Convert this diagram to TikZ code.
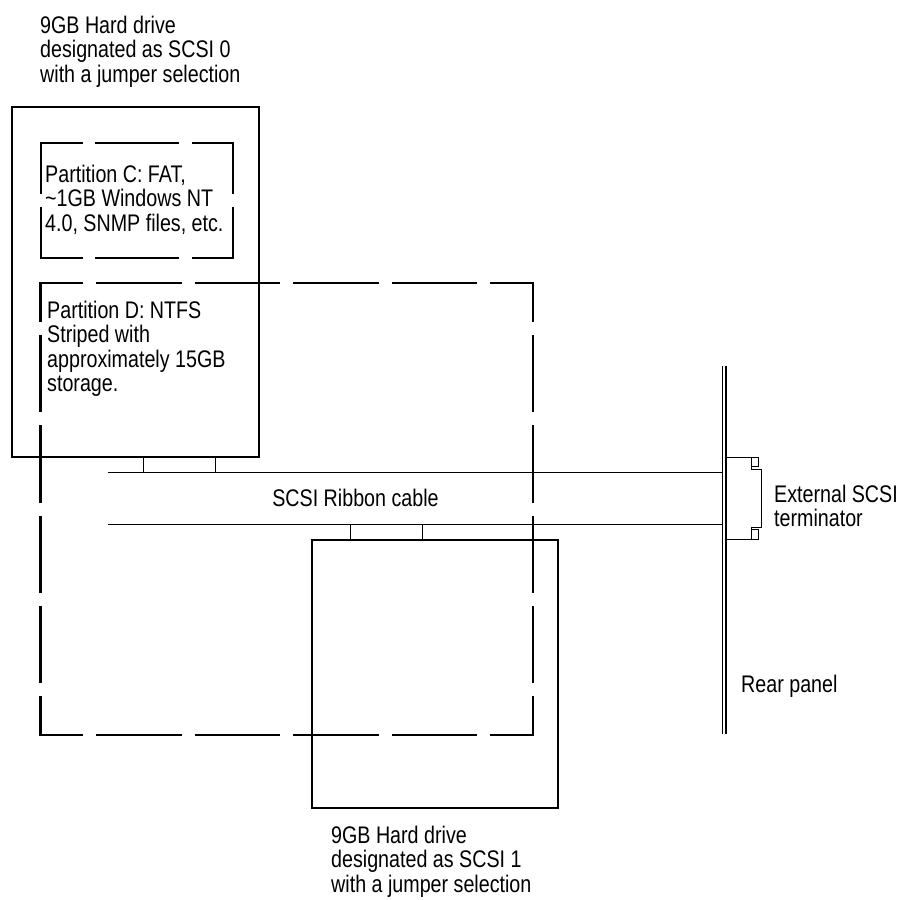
\documentclass[tikz,border=0pt]{standalone}
\usepackage{fontspec}
\setmainfont{Liberation Sans}[FakeStretch=0.82]
\begin{document}
\begin{tikzpicture}[x=1pt,y=-1pt,
  solidbox/.style={draw, line width=1.8pt},
  dashline/.style={line width=2.3pt, line cap=rect},
  thinline/.style={line width=1pt},
  panelline/.style={line width=1.2pt},
  lbl/.style={anchor=base west, inner sep=0pt, align=left, font=\fontsize{24}{24.5}\selectfont}]
\useasboundingbox (0,0) rectangle (904,899);

% top drive (SCSI 0)
\coordinate (t0a) at (12.3,106.7);
\coordinate (t0b) at (258.7,457.3);
\draw[solidbox] (t0a) rectangle (t0b);

% partition C dashed box
\coordinate (c1) at (40.7,143.3);
\coordinate (c2) at (233.3,143.3);
\coordinate (c3) at (233.3,257.7);
\coordinate (c4) at (40.7,257.7);
\draw[dashline, dash pattern=on 81.3pt off 15pt, dash phase=40.65pt] (c1) -- (c2);
\draw[dashline, dash pattern=on 81.3pt off 15pt, dash phase=40.65pt] (c4) -- (c3);
\draw[dashline, dash pattern=on 99.4pt off 15pt, dash phase=49.7pt] (c1) -- (c4);
\draw[dashline, dash pattern=on 99.4pt off 15pt, dash phase=49.7pt] (c2) -- (c3);

% partition D dashed box
\coordinate (d1) at (40.5,283.3);
\coordinate (d2) at (533,283.3);
\coordinate (d3) at (533,735);
\coordinate (d4) at (40.5,735);
\draw[dashline, dash pattern=on 83.5pt off 15pt, dash phase=41.75pt] (d1) -- (d2);
\draw[dashline, dash pattern=on 83.5pt off 15pt, dash phase=41.75pt] (d4) -- (d3);
\draw[dashline, dash pattern=on 75.34pt off 15pt, dash phase=37.67pt] (d1) -- (d4);
\draw[dashline, dash pattern=on 75.34pt off 15pt, dash phase=37.67pt] (d2) -- (d3);

% connectors and ribbon cable
\draw[thinline] (143.3,457.3) rectangle (215,472.7);
\coordinate (cabAs) at (107.7,472.7);
\coordinate (cabAe) at (722.5,472.7);
\coordinate (cabBs) at (107.7,524.3);
\coordinate (cabBe) at (722.5,524.3);
\draw[thinline] (cabAs) -- (cabAe);
\draw[thinline] (cabBs) -- (cabBe);
\draw[thinline] (350.7,524.3) rectangle (422.7,539.7);

% lower drive (SCSI 1)
\coordinate (t1a) at (312.3,539.7);
\coordinate (t1b) at (558.3,808);
\draw[solidbox] (t1a) rectangle (t1b);

% rear panel
\coordinate (p1t) at (722.5,366);
\coordinate (p1b) at (722.5,734.3);
\coordinate (p2t) at (726,366);
\coordinate (p2b) at (726,734.3);
\draw[panelline] (p1t) -- (p1b);
\draw[panelline] (p2t) -- (p2b);

% terminator
\draw[thinline] (726,457.3) -- (751.7,457.3) -- (751.7,469.3) -- (761,469.3)
  -- (761,527.3) -- (751.7,527.3) -- (751.7,539.3) -- (726,539.3);
\draw[thinline] (751.7,457.3) rectangle (758.7,466.7);
\draw[thinline] (751.7,529.3) rectangle (758.7,539.3);

% labels (anchor = baseline of the last line)
\node[lbl] (lab0) at (40,82) {9GB Hard drive\\designated as SCSI 0\\with a jumper selection};
\node[lbl] (pc) at (45,231) {Partition C: FAT,\\\textasciitilde1GB Windows NT\\4.0, SNMP files, etc.};
\node[lbl] (pd) at (47,391.5) {Partition D: NTFS\\Striped with\\approximately 15GB\\storage.};
\node[lbl, anchor=base] (rib) at (355.5,506) {SCSI Ribbon cable};
\node[lbl] (ext) at (774,526.5) {External SCSI\\terminator};
\node[lbl] (rear) at (741,692) {Rear panel};
\node[lbl] (lab1) at (331,892) {9GB Hard drive\\designated as SCSI 1\\with a jumper selection};
\end{tikzpicture}
\end{document}
